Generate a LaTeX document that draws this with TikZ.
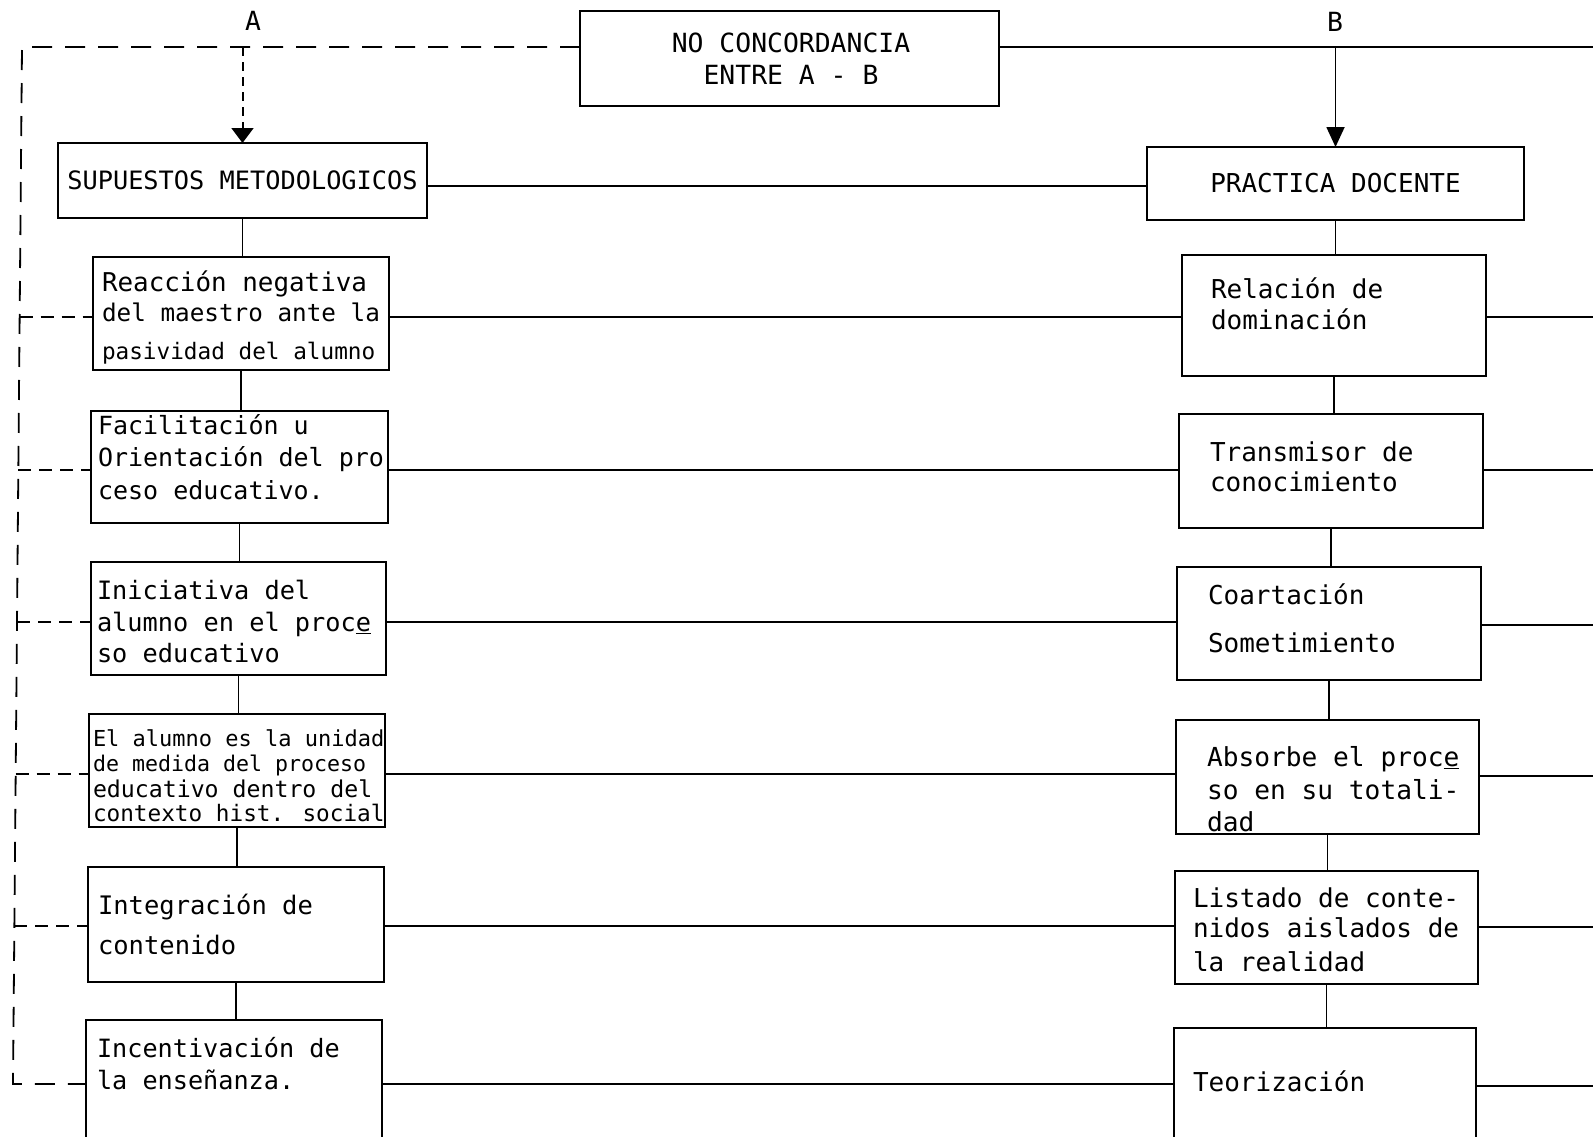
\documentclass[tikz,border=0pt]{standalone}
\usepackage{fontspec}
\newfontfamily\mono{DejaVu Sans Mono}
\usetikzlibrary{arrows.meta}
\newcommand\mline[5]{\node[txt,font=\mono\fontsize{#4pt}{#4pt}\selectfont] (#1) at (#2,#3) {#5};}
\begin{document}
\begin{tikzpicture}[x=1pt,y=-1pt,
  box/.style={draw, line width=1.8pt, inner sep=0pt, outer sep=0pt, rectangle},
  txt/.style={anchor=base west, inner sep=0pt, outer sep=0pt},
  ctxt/.style={anchor=base, inner sep=0pt, outer sep=0pt},
  link/.style={line width=1.8pt},
  fb/.style={line width=1.8pt, dash pattern=on 20pt off 13pt},
  fbs/.style={line width=1.8pt, dash pattern=on 13pt off 8pt},
  dotarrow/.style={line width=2pt, dash pattern=on 9pt off 6pt, -{Triangle[width=22pt,length=15pt]}},
  solarrow/.style={line width=1.8pt, -{Triangle[width=18pt,length=20pt]}}]
\useasboundingbox (0,0) rectangle (1593,1136);
\clip (0,0) rectangle (1593,1136);

% top box and labels
\node[box, minimum width=419pt, minimum height=95pt] (T) at (789.5,58.5) {};
\node[ctxt, font=\mono\fontsize{26.4pt}{26pt}\selectfont] (T1) at (791,52) {NO CONCORDANCIA};
\node[ctxt, font=\mono\fontsize{26.4pt}{26pt}\selectfont] (T2) at (791,84) {ENTRE A - B};
\node[ctxt, font=\mono\fontsize{26.4pt}{26pt}\selectfont] (lA) at (253,30) {A};
\node[ctxt, font=\mono\fontsize{26.4pt}{26pt}\selectfont] (lB) at (1335,31) {B};

% head boxes
\node[box, minimum width=369pt, minimum height=75pt, font=\mono\fontsize{25.3pt}{25pt}\selectfont] (S) at (242.5,180.5) {SUPUESTOS METODOLOGICOS};
\node[box, minimum width=377pt, minimum height=73pt, font=\mono\fontsize{26pt}{26pt}\selectfont] (P) at (1335.5,183.5) {PRACTICA DOCENTE};

% left column boxes
\node[box, minimum width=296pt, minimum height=113pt] (L1) at (241,313.5) {};
\node[box, minimum width=297pt, minimum height=112pt] (L2) at (239.5,467) {};
\node[box, minimum width=295pt, minimum height=113pt] (L3) at (238.5,618.5) {};
\node[box, minimum width=296pt, minimum height=113pt] (L4) at (237,770.5) {};
\node[box, minimum width=296pt, minimum height=115pt] (L5) at (236,924.5) {};
\node[box, minimum width=296pt, minimum height=140pt] (L6) at (234,1090) {};

% right column boxes
\node[box, minimum width=304pt, minimum height=121pt] (R1) at (1334,315.5) {};
\node[box, minimum width=304pt, minimum height=114pt] (R2) at (1331,471) {};
\node[box, minimum width=304pt, minimum height=113pt] (R3) at (1329,623.5) {};
\node[box, minimum width=303pt, minimum height=114pt] (R4) at (1327.5,777) {};
\node[box, minimum width=303pt, minimum height=113pt] (R5) at (1326.5,927.5) {};
\node[box, minimum width=302pt, minimum height=132pt] (R6) at (1325,1094) {};

% left texts
\mline{a1}{102}{291}{25.9}{Reacción negativa}
\mline{a2}{102}{321}{24.3}{del maestro ante la}
\mline{a3}{102}{359}{22.7}{pasividad del alumno}
\mline{b1}{98}{434}{25}{Facilitación u}
\mline{b2}{98}{466}{25}{Orientación del pro}
\mline{b3}{98}{499}{25}{ceso educativo.}
\mline{c1}{97}{599}{25.3}{Iniciativa del}
\mline{c2}{97}{631}{25.3}{alumno en el proc\underline{e}}
\mline{c3}{97}{662}{25.3}{so educativo}
\mline{d1}{93}{746}{22}{El alumno es la unidad}
\mline{d2}{93}{771}{21.6}{de medida del proceso}
\mline{d3}{93}{797}{23.2}{educativo dentro del}
\mline{d4}{93}{821}{22.7}{contexto hist. social}
\mline{e1}{98}{914}{25.5}{Integración de}
\mline{e2}{98}{954}{25.5}{contenido}
\mline{f1}{97}{1057}{25.2}{Incentivación de}
\mline{f2}{97}{1089}{25.2}{la enseñanza.}

% right texts
\mline{g1}{1211}{298}{26}{Relación de}
\mline{g2}{1211}{329}{26}{dominación}
\mline{h1}{1210}{461}{26}{Transmisor de}
\mline{h2}{1210}{491}{26}{conocimiento}
\mline{i1}{1208}{604}{26}{Coartación}
\mline{i2}{1208}{652}{26}{Sometimiento}
\mline{j1}{1207}{766}{26.2}{Absorbe el proc\underline{e}}
\mline{j2}{1207}{799}{26.2}{so en su totali-}
\mline{j3}{1207}{831}{26.2}{dad}
\mline{k1}{1193}{907}{26}{Listado de conte-}
\mline{k2}{1193}{937}{26}{nidos aislados de}
\mline{k3}{1193}{971}{26}{la realidad}
\mline{m1}{1193}{1091}{26}{Teorización}

% helper coordinates
\coordinate (tl) at (0,47);
\coordinate (Etop) at (1593,47);
\coordinate (ys) at (0,186);
\coordinate (y1) at (0,317);
\coordinate (y2) at (0,470);
\coordinate (y3) at (0,622);
\coordinate (y4) at (0,774);
\coordinate (y5) at (0,926);
\coordinate (y6) at (0,1084);
\coordinate (E1) at (1593,317);
\coordinate (E2) at (1593,470);
\coordinate (E3) at (1593,625);
\coordinate (E4) at (1593,776);
\coordinate (E5) at (1593,927);
\coordinate (E6) at (1593,1086);
\coordinate (D0) at (22,47);
\coordinate (D1) at (19.6,317);
\coordinate (D2) at (18.3,470);
\coordinate (D3) at (17,622);
\coordinate (D4) at (15.7,774);
\coordinate (D5) at (14.3,926);
\coordinate (D6) at (13,1084);

% top connectors
\draw[link] (T.east |- tl) -- (Etop);
\draw[solarrow] (P.north |- tl) -- (P.north);
\draw[fb] (T.west |- tl) -- (D0) -- (D6) -- (L6.west |- y6);
\draw[dotarrow] (S.north |- tl) -- (S.north);

% horizontal head link
\draw[link] (S.east |- ys) -- (P.west |- ys);

% column links
\draw[link] (S.south) -- (S.south |- L1.north);
\draw[link] (L1.south) -- (L1.south |- L2.north);
\draw[link] (L2.south) -- (L2.south |- L3.north);
\draw[link] (L3.south) -- (L3.south |- L4.north);
\draw[link] (L4.south) -- (L4.south |- L5.north);
\draw[link] (L5.south) -- (L5.south |- L6.north);
\draw[link] (P.south) -- (P.south |- R1.north);
\draw[link] (R1.south) -- (R1.south |- R2.north);
\draw[link] (R2.south) -- (R2.south |- R3.north);
\draw[link] (R3.south) -- (R3.south |- R4.north);
\draw[link] (R4.south) -- (R4.south |- R5.north);
\draw[link] (R5.south) -- (R5.south |- R6.north);

% row links
\draw[link] (L1.east |- y1) -- (R1.west |- y1);
\draw[link] (L2.east |- y2) -- (R2.west |- y2);
\draw[link] (L3.east |- y3) -- (R3.west |- y3);
\draw[link] (L4.east |- y4) -- (R4.west |- y4);
\draw[link] (L5.east |- y5) -- (R5.west |- y5);
\draw[link] (L6.east |- y6) -- (R6.west |- y6);

% right edge links
\draw[link] (R1.east |- E1) -- (E1);
\draw[link] (R2.east |- E2) -- (E2);
\draw[link] (R3.east |- E3) -- (E3);
\draw[link] (R4.east |- E4) -- (E4);
\draw[link] (R5.east |- E5) -- (E5);
\draw[link] (R6.east |- E6) -- (E6);

% left dashed branches
\draw[fbs] (D1) -- (L1.west |- y1);
\draw[fbs] (D2) -- (L2.west |- y2);
\draw[fbs] (D3) -- (L3.west |- y3);
\draw[fbs] (D4) -- (L4.west |- y4);
\draw[fbs] (D5) -- (L5.west |- y5);
\end{tikzpicture}
\end{document}
